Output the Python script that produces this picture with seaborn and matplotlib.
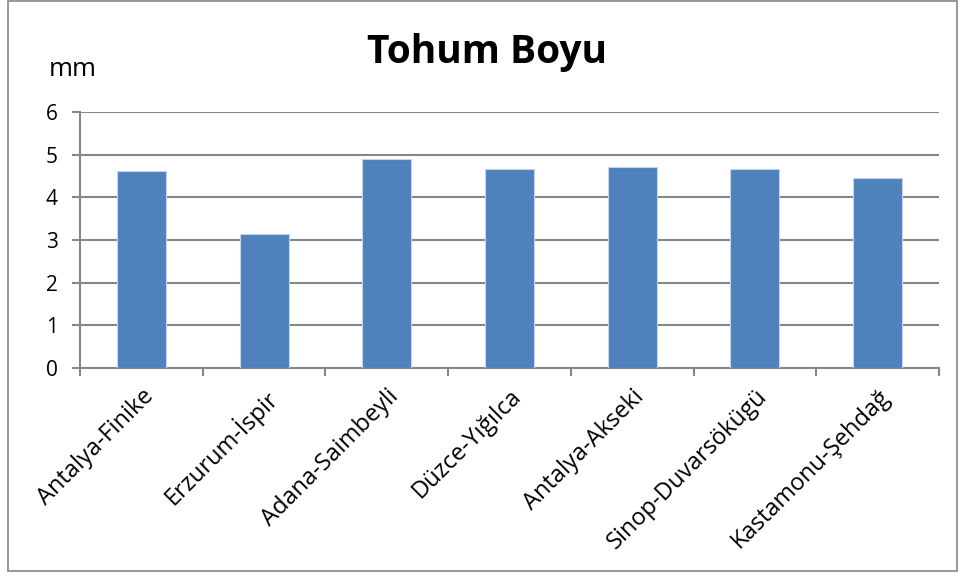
import matplotlib
matplotlib.use("Agg")
import matplotlib.pyplot as plt
from matplotlib.patches import Rectangle
import seaborn as sns
import pandas as pd

categories = ["Antalya-Finike", "Erzurum-İspir", "Adana-Saimbeyli", "Düzce-Yığılca",
              "Antalya-Akseki", "Sinop-Duvarsökügü", "Kastamonu-Şehdağ"]
values = [4.62, 3.14, 4.91, 4.67, 4.71, 4.67, 4.46]
yticks = [0, 1, 2, 3, 4, 5, 6]
title = "Tohum Boyu"
unit = "mm"

sns.set_theme(style="white")
plt.rcParams["font.family"] = ["Open Sans", "DejaVu Sans"]
plt.rcParams["text.color"] = "black"

df = pd.DataFrame({"loc": categories, "val": values})

fig = plt.figure(figsize=(9.61, 5.78), dpi=100)
ax = fig.add_axes([80/961, 1-368/578, (939-80)/961, (368-112)/578])

sns.barplot(data=df, x="loc", y="val", color="#4F81BD", saturation=1,
            width=0.4, edgecolor="#C6D5EA", linewidth=0.8, ax=ax, zorder=3)

ax.set_xlim(-0.5, len(categories) - 0.5)
ax.set_ylim(0, 6)
ax.set_yticks(yticks)
ax.set_yticklabels([str(t) for t in yticks], fontsize=15, color="black")
ax.yaxis.grid(True, color="#868686", linewidth=1.5, zorder=0)
ax.set_axisbelow(True)

ax.set_xticks([i + 0.5 for i in range(-1, len(categories))], minor=False)
ax.set_xticklabels([])
ax.set_xticks(range(len(categories)), minor=True)
ax.set_xticklabels(categories, minor=True, rotation=45, ha="right",
                   rotation_mode="anchor", fontsize=17, color="black")
ax.tick_params(axis="x", which="minor", length=0, pad=12, bottom=False)
ax.tick_params(axis="x", which="major", bottom=True, length=6, width=1.5,
               color="#868686", direction="out")
ax.tick_params(axis="y", left=True, length=6, width=1.5, color="#868686",
               direction="out", pad=10)

for s in ["top", "right"]:
    ax.spines[s].set_visible(False)
for s in ["left", "bottom"]:
    ax.spines[s].set_color("#868686")
    ax.spines[s].set_linewidth(1.5)

ax.set_xlabel("")
ax.set_ylabel("")

fig.text(487/961, 1-52/578, title, ha="center", va="center", fontsize=28,
         fontweight="bold", color="black")
fig.text(73/961, 1-70/578, unit, ha="center", va="center", fontsize=18.5, color="black")

fig.patches.append(Rectangle((8/961, 1-571/578), (957-8)/961, (571-1)/578,
                             transform=fig.transFigure, fill=False,
                             edgecolor="#868686", linewidth=1.2))

fig.savefig("out.png", dpi=100)
